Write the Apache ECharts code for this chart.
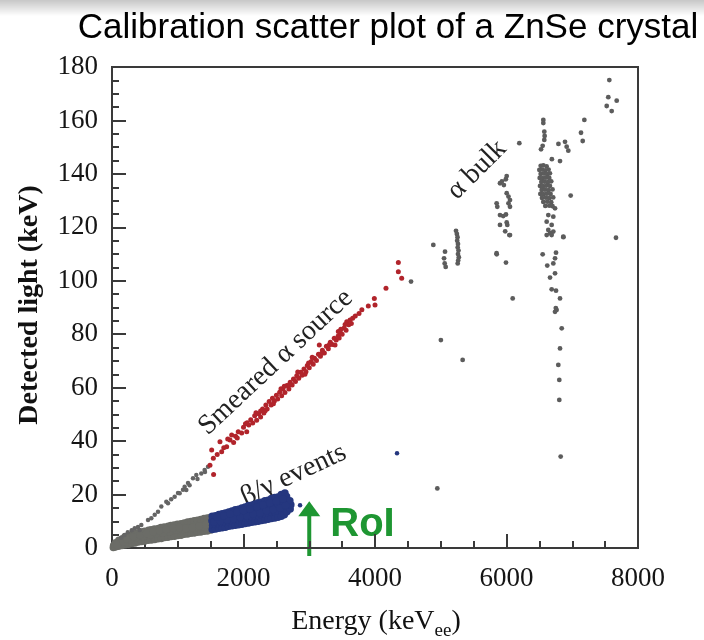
<!DOCTYPE html>
<html><head><meta charset="utf-8">
<script src="https://cdn.jsdelivr.net/npm/echarts@6/dist/echarts.min.js"></script>
<style>html,body{margin:0;padding:0;background:#fff}#c{width:704px;height:640px}</style>
</head><body><div id="c"></div>
<script>
// ---- axes ----
const xTickLabels = [0, 2000, 4000, 6000, 8000];
const yTickLabels = [0, 20, 40, 60, 80, 100, 120, 140, 160, 180];
const roiEnergy = 3000;

// ---- beta/gamma band below RoI region (grey) [energy keV, light keV] ----
const betaGammaLow = [
[20,0.2],[25,0.9],[50,0.4],[50,1.4],[55,2.0],[100,0.7],[95,1.8],[105,2.9],[150,0.9],[145,2.2],[155,3.4],
[200,1.2],[205,2.6],[195,4.1],[250,1.4],[245,3.0],[255,4.6],[300,1.7],[295,3.3],[305,5.0],[350,1.9],[355,3.7],[345,5.3],
[400,2.2],[405,3.9],[395,5.7],[450,2.4],[445,4.3],[455,6.0],[500,2.6],[505,4.4],[495,6.3],[550,2.9],[545,4.7],[555,6.6],
[600,3.0],[605,5.0],[595,6.8],[650,3.2],[655,5.1],[645,7.1],[700,3.5],[695,5.4],[705,7.3],[750,3.6],[755,5.6],[745,7.7],
[800,3.9],[805,5.8],[795,7.9],[850,4.0],[845,6.1],[855,8.1],[900,4.3],[905,6.2],[895,8.4],[950,4.4],[955,6.5],[945,8.6],
[1000,4.7],[1005,6.7],[995,8.9],[1050,4.8],[1045,6.4],[1055,7.9],[1050,9.1],[1100,5.1],[1105,6.6],[1095,8.0],[1100,9.4],
[1150,5.2],[1155,6.8],[1145,8.3],[1150,9.7],[1200,5.5],[1205,7.0],[1195,8.5],[1200,9.9],[1250,5.6],[1255,7.2],[1245,8.8],[1250,10.2],
[1300,5.9],[1305,7.4],[1295,9.0],[1300,10.4],[1350,6.0],[1355,7.7],[1345,9.3],[1350,10.7],[1400,6.3],[1405,7.8],[1395,9.5],[1400,11.0],
[1450,6.4],[1455,8.1],[1445,9.7],[1450,11.2],[1500,6.7],[1505,8.3],[1495,10.0],[1500,11.5],
[75,1.2],[175,2.3],[275,3.2],[375,3.8],[475,4.3],[575,4.9],[675,5.3],[775,5.7],[875,6.1],[975,6.6],
[225,3.5],[325,4.2],[425,4.9],[525,5.4],[625,6.0],[725,6.5],[825,6.9],[925,7.5],[1025,7.7],[1125,7.3],[1225,7.7],[1325,8.2],[1425,8.8]
];

// ---- beta/gamma events in RoI region (blue) ----
const betaGammaRoI = [
[1525,6.9],[1530,8.5],[1520,10.2],[1525,11.9],[1575,7.1],[1580,8.8],[1570,10.4],[1575,12.1],
[1625,7.4],[1630,9.0],[1620,10.7],[1625,12.5],[1675,7.6],[1680,9.3],[1670,11.0],[1675,12.8],
[1725,7.8],[1730,9.5],[1720,11.2],[1725,13.1],[1775,8.1],[1780,9.8],[1770,11.6],[1775,13.5],
[1825,8.3],[1830,10.1],[1820,11.9],[1825,13.8],[1875,8.5],[1880,10.3],[1870,12.2],[1875,14.3],
[1925,8.7],[1930,10.6],[1920,12.5],[1925,14.5],[1975,8.9],[1980,10.8],[1970,12.8],[1975,15.0],
[2025,9.2],[2030,11.1],[2020,13.0],[2025,15.3],[2075,9.4],[2080,11.3],[2070,13.4],[2075,15.9],
[2125,9.6],[2130,11.6],[2120,13.7],[2125,16.0],[2175,9.8],[2180,11.9],[2170,14.0],[2175,16.5],
[2225,10.0],[2230,12.1],[2220,14.2],[2225,16.9],[2275,10.3],[2280,12.4],[2270,14.6],[2275,17.1],
[2325,10.5],[2330,12.7],[2320,14.9],[2325,17.7],[2375,10.8],[2380,13.0],[2370,15.2],[2375,17.9],
[2425,11.0],[2430,13.3],[2420,15.5],[2425,18.5],[2475,11.2],[2480,13.5],[2470,15.8],[2475,18.9],
[2525,11.5],[2530,13.8],[2520,16.2],[2525,19.1],[2575,11.9],[2580,14.1],[2570,16.5],[2575,20.0],
[2620,12.4],[2625,14.6],[2615,17.0],[2630,20.6],[2660,13.6],[2670,15.4],[2665,17.6],[2655,19.3],
[2710,14.6],[2720,16.2],[2705,17.7],
[1550,9.6],[1650,10.1],[1750,10.6],[1850,11.0],[1950,11.6],[2050,12.1],[2150,12.7],[2250,13.1],[2350,13.9],[2450,14.4],[2550,15.0],[2640,16.0],
[1600,11.5],[1700,12.1],[1800,12.7],[1900,13.4],[2000,14.0],[2100,14.6],[2200,15.3],[2300,16.1],[2400,16.8],[2500,17.5],[2600,18.3]
];
const blueOutliers = [[2860,16.0],[4335,35.5]];

// ---- smeared alpha source (red) ----
const smearedSource = [
[1490,31.0],[1516,36.7],[1541,33.6],[1545,27.5],[1600,35.0],[1642,39.8],[1668,36.0],[1700,37.5],[1744,37.9],
[1795,40.4],[1820,42.3],[1850,39.5],[1880,41.8],[1920,43.5],[1972,43.0],[2000,45.2],[2049,43.5],[2030,46.5],
[2080,46.0],[2110,48.0],[2140,46.8],[2170,49.5],[2200,47.8],[2230,50.2],[2260,49.0],[2290,52.0],[2310,50.5],
[2340,53.5],[2360,52.0],[2390,54.8],[2420,53.5],[2440,56.0],[2470,55.0],[2500,57.2],[2520,55.8],[2550,58.3],
[2580,57.0],[2600,59.5],[2630,58.2],[2660,60.8],[2690,59.5],[2710,62.0],[2740,61.0],[2760,63.2],[2790,62.3],
[2810,64.5],[2840,63.5],[2870,65.8],[2890,64.6],[2920,67.0],[2950,66.0],[2970,68.3],[3000,67.5],[3030,69.8],
[3060,68.8],[3080,71.0],[3110,70.2],[3140,72.5],[3153,76.0],[3170,71.8],[3200,74.0],[3230,73.0],[3260,75.5],
[3290,74.6],[3320,77.0],[3350,76.2],[3392,76.0],[3380,78.5],[3410,77.8],[3442,81.0],[3440,79.3],[3470,80.8],
[3500,80.0],[3530,82.3],[3560,81.5],[3570,84.7],[3600,83.5],[3620,85.3],[3660,86.0],[3700,86.8],[3757,87.8],
[3800,89.2],[3898,90.6],[4000,90.9],[3990,93.4],[4167,97.2],[4355,106.8],[4355,103.4],[4406,100.9],
[1760,40.8],[1905,41.2],[2055,46.9],[2190,50.6],[2330,51.4],[2455,54.0],[2570,59.6],[2700,61.1],[2825,65.9],
[2935,65.0],[3045,71.4],[3185,72.8],[3305,76.1],[3455,78.6],[3545,83.6],[3640,84.0],[2260,51.3],[2620,60.5],[2990,69.2],[3480,81.9]
];

// ---- sparse grey events above the beta/gamma band ----
const lowScatter = [
[140,3.8],[190,4.9],[240,5.9],[300,6.6],[345,7.4],[395,7.9],[421,6.7],[446,8.6],[548,10.5],[598,11.1],
[650,12.4],[700,13.6],[750,15.5],[826,17.3],[852,16.7],[900,18.2],[953,19.2],[1004,20.6],[1029,20.5],
[1080,21.8],[1105,22.9],[1130,21.7],[1156,24.3],[1180,23.5],[1232,26.1],[1282,27.3],[1300,25.8],
[1358,27.9],[1409,29.2],[1414,28.4],[1460,30.4]
];

// ---- alpha bulk events (grey) ----
const alphaBulk = [
[4548,99.7],[4887,113.4],[5002,77.8],[5333,70.4],[4948,22.3],
[5065,110.9],[5050,108.4],[5060,106.5],[5075,105.2],
[5232,118.7],[5245,117.5],[5255,116.3],[5250,115.0],[5262,113.8],[5258,112.5],[5270,111.3],[5262,110.0],[5275,108.8],[5265,107.6],[5258,106.5],
[6003,139.2],[5990,138.0],[5901,136.5],[5960,135.8],[5930,137.2],
[6003,132.8],[6030,131.5],[6053,130.2],[6030,129.0],[6053,127.7],[5850,129.0],[5860,127.7],
[5901,124.6],[5950,124.2],[5992,124.8],[5901,120.9],[6003,121.8],[5980,118.5],[6043,117.1],[6012,120.9],[6053,117.1],
[5849,110.3],[5992,106.8],[6094,93.4],[5851,109.9],
[6195,151.5],
[6560,160.2],[6560,159.0],[6575,155.8],[6580,154.2],[6575,152.7],[6550,150.5],[6525,149.2],
[6520,143.0],[6560,143.2],[6610,142.8],[6500,141.5],[6545,141.6],[6590,141.3],[6640,141.6],
[6520,140.0],[6570,140.1],[6620,139.9],[6660,140.2],[6505,138.5],[6550,138.4],[6600,138.6],[6650,138.5],
[6530,137.0],[6580,137.1],[6630,136.9],[6680,137.2],[6510,135.5],[6555,135.4],[6605,135.6],[6660,135.5],
[6535,134.0],[6585,134.1],[6640,133.9],[6700,134.2],[6515,132.5],[6560,132.4],[6615,132.6],[6670,132.5],
[6540,131.0],[6600,131.1],[6650,130.9],[6710,131.2],[6560,129.5],[6620,129.6],[6680,129.4],[6590,128.0],[6650,128.1],[6700,127.9],
[6690,145.5],[6814,144.8],
[6738,127.1],[6712,124.0],[6636,124.6],[6611,122.1],[6687,120.9],[6636,119.0],[6662,117.8],[6712,118.4],[6687,117.1],[6611,117.1],
[6864,116.5],
[6550,109.9],[6753,110.5],[6738,108.4],[6712,106.5],[6620,105.7],[6738,102.8],[6662,101.2],[6687,96.8],[6753,96.3],[6814,93.4],
[6738,88.4],[6762,89.1],[6750,89.8],[6840,82.2],[6814,74.7],[6788,68.5],[6803,62.9],[6803,55.4],[6824,34.2],
[6790,151.2],[6890,152.0],[6915,150.2],[6940,148.7],[6976,131.9],[6865,116.3],
[7133,155.4],[7159,152.3],[7184,160.2],
[7665,116.1],[7564,175.1],[7548,168.7],[7676,167.4],[7524,165.4],[7600,163.5]
];

const axisColor = '#3a3a3a';
const serif = '"Liberation Serif", "DejaVu Serif", serif';

const chart = echarts.init(document.getElementById('c'), null, {renderer: 'canvas'});

function axisCommon() {
  return {
    type: 'value',
    axisLine: {show: true, lineStyle: {color: axisColor, width: 2}},
    axisTick: {show: true, inside: true, length: 14, lineStyle: {color: axisColor, width: 2}},
    minorTick: {show: true, splitNumber: 4, length: 7, lineStyle: {color: axisColor, width: 2}},
    splitLine: {show: false},
    axisLabel: {fontFamily: serif, fontSize: 27, color: '#151515', formatter: function (v) { return String(v); }}
  };
}

const xAxis = Object.assign(axisCommon(), {min: xTickLabels[0], max: xTickLabels[xTickLabels.length - 1], interval: xTickLabels[1] - xTickLabels[0]});
xAxis.axisLabel.margin = 17;
const yAxis = Object.assign(axisCommon(), {min: yTickLabels[0], max: yTickLabels[yTickLabels.length - 1], interval: yTickLabels[1] - yTickLabels[0]});
yAxis.axisLabel.margin = 14;

function sc(data, color, size) {
  return {type: 'scatter', data: data, symbol: 'circle', symbolSize: size, itemStyle: {color: color, opacity: 1}, silent: true, animation: false};
}

chart.setOption({
  animation: false,
  grid: {left: 112, right: 66, top: 67, bottom: 92, show: true, borderColor: axisColor, borderWidth: 2, backgroundColor: 'transparent'},
  xAxis: xAxis,
  yAxis: yAxis,
  series: [
    sc(betaGammaLow, '#6b6c67', 7.5),
    sc(lowScatter, '#646464', 4.5),
    sc(betaGammaRoI, '#25377f', 7.5),
    sc(blueOutliers, '#25377f', 4.5),
    sc(smearedSource, '#b1242b', 5),
    sc(alphaBulk, '#5c5c5c', 4.8)
  ]
});

function P(e, l) { return chart.convertToPixel({gridIndex: 0}, [e, l]); }
const deg = Math.PI / 180;
const aBot = P(roiEnergy, -3), aTop = P(roiEnergy, 17.5), aBase = P(roiEnergy, 12.3);
const smeared = P(2490, 69.5), bulk = P(5551, 141.5), bg = P(2760, 27.3);
const roiTxt = P(3320, 8.8);
const green = '#1e9632';

chart.setOption({
  graphic: [
    {type: 'rect', left: 0, top: 0, shape: {width: 704, height: 16}, silent: true,
     style: {fill: new echarts.graphic.LinearGradient(0, 0, 0, 1, [{offset: 0, color: 'rgba(0,0,0,0.22)'}, {offset: 1, color: 'rgba(0,0,0,0)'}])}},
    {type: 'text', x: 388, y: 28, silent: true,
     style: {text: 'Calibration scatter plot of a ZnSe crystal', fontFamily: '"Liberation Sans", Arial, sans-serif', fontSize: 35, fill: '#000', align: 'center', verticalAlign: 'middle'}},
    {type: 'text', x: 30, y: 305, rotation: 90 * deg, silent: true,
     style: {text: 'Detected light (keV)', fontFamily: serif, fontSize: 28, fontWeight: 'bold', fill: '#111', align: 'center', verticalAlign: 'middle'}},
    {type: 'text', x: 376, y: 624, silent: true,
     style: {text: '{a|Energy (keV}{b|ee}{a|)}', align: 'center', verticalAlign: 'middle', fill: '#111',
       rich: {a: {fontFamily: serif, fontSize: 28, lineHeight: 30, verticalAlign: 'top'},
              b: {fontFamily: serif, fontSize: 19, lineHeight: 33, verticalAlign: 'bottom'}}}},
    {type: 'text', x: smeared[0], y: smeared[1], rotation: 43 * deg, silent: true,
     style: {text: 'Smeared \u03b1 source', fontFamily: serif, fontSize: 28, fill: '#222', align: 'center', verticalAlign: 'middle'}},
    {type: 'text', x: bulk[0], y: bulk[1], rotation: 45 * deg, silent: true,
     style: {text: '\u03b1 bulk', fontFamily: serif, fontSize: 28, fill: '#222', align: 'center', verticalAlign: 'middle'}},
    {type: 'text', x: bg[0], y: bg[1], rotation: 25 * deg, silent: true,
     style: {text: '\u03b2/\u03b3 events', fontFamily: serif, fontSize: 28, fill: '#222', align: 'center', verticalAlign: 'middle'}},
    {type: 'line', silent: true, shape: {x1: aBot[0], y1: aBot[1], x2: aBase[0], y2: aBase[1]},
     style: {stroke: green, lineWidth: 4}},
    {type: 'polygon', silent: true, shape: {points: [[aTop[0], aTop[1]], [aBase[0] - 11, aBase[1] + 1], [aBase[0] + 11, aBase[1] + 1]]},
     style: {fill: green}},
    {type: 'text', x: roiTxt[0], y: roiTxt[1], silent: true,
     style: {text: 'RoI', fontFamily: '"Liberation Sans", Arial, sans-serif', fontSize: 40, fontWeight: 'bold', fill: green, align: 'left', verticalAlign: 'middle'}}
  ]
});
</script>
</body></html>
